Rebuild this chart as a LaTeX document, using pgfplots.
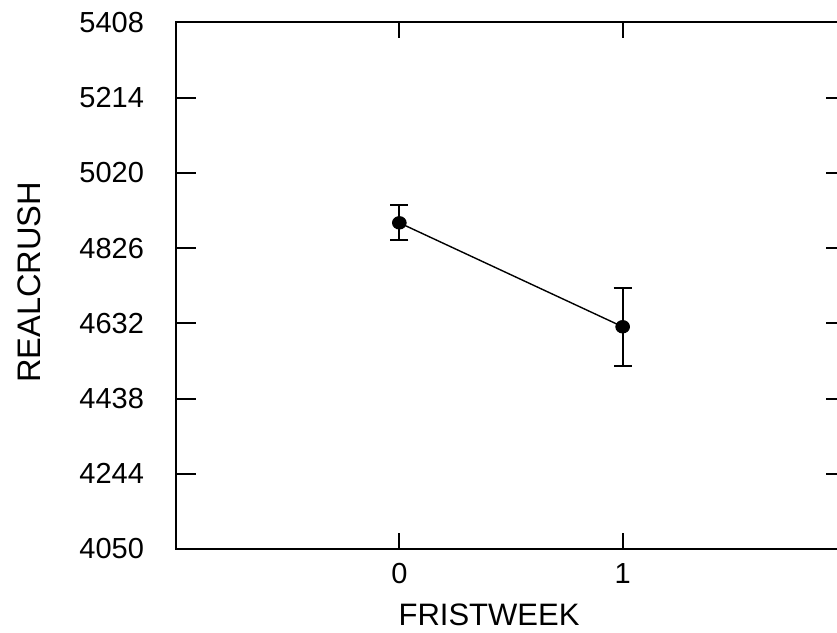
\documentclass[border=0pt]{standalone}
\usepackage{pgfplots}
\pgfplotsset{compat=1.18}
\usepackage{fontspec}
\setmainfont{Liberation Sans}
\begin{document}
\begin{tikzpicture}
\begin{axis}[
  at={(0,0)}, anchor=south west,
  scale only axis,
  width=335pt, height=263.35pt,
  xmin=-1, xmax=2,
  ymin=4050, ymax=5408,
  xtick={0,1},
  ytick={4050,4244,4438,4632,4826,5020,5214,5408},
  tick align=inside,
  xtick pos=both, ytick pos=both,
  xticklabel pos=lower, yticklabel pos=left,
  axis line style={line width=1pt},
  major tick length=10pt,
  every tick/.append style={black, line width=1pt},
  xtick style={black, line width=1pt, /pgfplots/major tick length=8pt},
  ytick style={black, line width=1pt},
  /pgf/number format/.cd, 1000 sep={}, assume math mode=true,
  /pgfplots/.cd,
  ticklabel style={font=\fontsize{14.5pt}{17pt}\selectfont},
  yticklabel style={xshift=-12.5pt},
  xticklabel style={yshift=-3.5pt},
  xlabel={FRISTWEEK},
  ylabel={REALCRUSH},
  xlabel style={font=\fontsize{15.5pt}{18pt}\selectfont, at={(rel axis cs:0,0)}, anchor=base, xshift=156.5pt, yshift=-38pt},
  ylabel style={font=\fontsize{16.3pt}{19pt}\selectfont, at={(rel axis cs:0,0.5)}, anchor=center, rotate=0, xshift=1.6pt, yshift=73.5pt},
]
\addplot[black, line width=0.7pt, mark=*, mark size=3.1pt,
  mark options={solid, line width=0.5pt, xscale=1.1},
  error bars/.cd, y dir=both, y explicit,
  error bar style={line width=1pt, black},
  error mark options={rotate=90, mark size=4.5pt, line width=1pt, black}]
  coordinates {
    (0,4891) +- (0,45)
    (1,4623) +- (0,100)
  };
\end{axis}
\pgfresetboundingbox
\useasboundingbox (-88pt,-42pt) rectangle (330.5pt,274.5pt);
\end{tikzpicture}
\end{document}
